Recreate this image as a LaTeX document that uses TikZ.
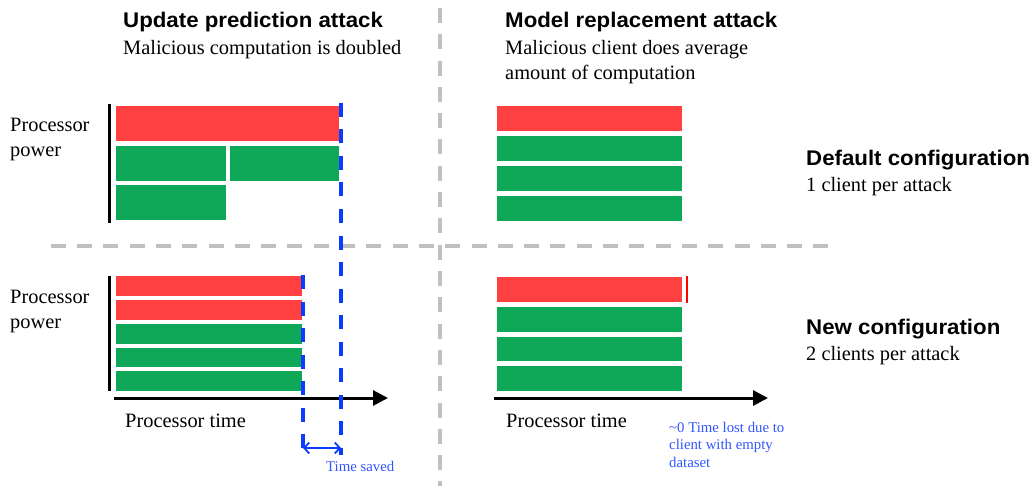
\documentclass[tikz,border=0pt]{standalone}
\usepackage{fontspec}
\setmainfont{Liberation Serif}
\newfontfamily\headfont[FakeStretch=1.05]{Liberation Sans}
\usetikzlibrary{arrows.meta}
\definecolor{barred}{RGB}{255,64,64}
\definecolor{bargreen}{RGB}{14,168,88}
\definecolor{dashblue}{RGB}{10,60,255}
\definecolor{noteblue}{RGB}{50,85,255}
\definecolor{divgray}{RGB}{192,192,192}
\begin{document}
\begin{tikzpicture}[x=1pt,y=-1pt,
  redbar/.style={fill=barred},
  greenbar/.style={fill=bargreen},
  divider/.style={draw=divgray,line width=3.3pt,dash pattern=on 15pt off 11.3pt},
  bluedash/.style={draw=dashblue,line width=3.5pt,dash pattern=on 14pt off 12.5pt},
  axisline/.style={draw=black,line width=3pt},
  timearrow/.style={draw=black,line width=3pt,-{Triangle[length=15pt,width=15pt]}},
  title/.style={anchor=base west,inner sep=0pt,font=\headfont\bfseries\fontsize{21.2}{24}\selectfont},
  body/.style={anchor=base west,inner sep=0pt,font=\fontsize{20.4}{25}\selectfont,align=left},
  note/.style={anchor=base west,inner sep=0pt,text=noteblue,font=\fontsize{14.8}{17.5}\selectfont,align=left}]
\useasboundingbox (0,0) rectangle (1032,486);
% dividers
\coordinate (vd1) at (440,8); \coordinate (vd2) at (440,486);
\coordinate (hd1) at (50.7,246); \coordinate (hd2) at (830,246);
\draw[divider] (vd1) -- (vd2);
\draw[divider] (hd1) -- (hd2);
% titles
\node[title] (t1) at (123,28) {Update prediction attack};
\node[body] (s1) at (123,55) {Malicious computation is doubled};
\node[title] (t2) at (505,28) {Model replacement attack};
\node[body] (s2a) at (505,55) {Malicious client does average};
\node[body] (s2b) at (505,80) {amount of computation};
\node[title] (t3) at (806,166) {Default configuration};
\node[body] (s3) at (806,192) {1 client per attack};
\node[title] (t4) at (806,334) {New configuration};
\node[body] (s4) at (806,360) {2 clients per attack};
% processor power labels
\node[body] (pp1a) at (10,132) {Processor};
\node[body] (pp1b) at (10,157) {power};
\node[body] (pp2a) at (10,303) {Processor};
\node[body] (pp2b) at (10,328) {power};
% top-left bars
\coordinate (a1) at (109,104); \coordinate (a2) at (109,223);
\draw[axisline] (a1) -- (a2);
\fill[redbar] (116,106) rectangle (339,141);
\fill[greenbar] (116,146) rectangle (226,181);
\fill[greenbar] (230,146) rectangle (339,181);
\fill[greenbar] (116,185) rectangle (226,220);
% top-right bars
\fill[redbar] (497,106) rectangle (682,131);
\fill[greenbar] (497,136) rectangle (682,161);
\fill[greenbar] (497,166) rectangle (682,191);
\fill[greenbar] (497,196) rectangle (682,221);
% bottom-left bars
\coordinate (b1) at (109,276); \coordinate (b2) at (109,391);
\draw[axisline] (b1) -- (b2);
\fill[redbar] (116,276) rectangle (302,296);
\fill[redbar] (116,300) rectangle (302,320);
\fill[greenbar] (116,324) rectangle (302,344);
\fill[greenbar] (116,348) rectangle (302,367);
\fill[greenbar] (116,371) rectangle (302,391);
% bottom-right bars
\fill[redbar] (497,277) rectangle (682,302);
\fill[greenbar] (497,307) rectangle (682,332);
\fill[greenbar] (497,337) rectangle (682,361);
\fill[greenbar] (497,366) rectangle (682,391);
\coordinate (rt1) at (687,276); \coordinate (rt2) at (687,303);
\draw[red,line width=2pt] (rt1) -- (rt2);
% time axes
\coordinate (x1) at (114,398); \coordinate (x2) at (388,398);
\draw[timearrow] (x1) -- (x2);
\coordinate (y1) at (494,398); \coordinate (y2) at (768,398);
\draw[timearrow] (y1) -- (y2);
\node[body] (pt1) at (125,427) {Processor time};
\node[body] (pt2) at (506,427) {Processor time};
% blue dashed lines
\coordinate (d1a) at (341,103); \coordinate (d1b) at (341,455);
\coordinate (d2a) at (303,275); \coordinate (d2b) at (303,455);
\draw[bluedash] (d1a) -- (d1b);
\draw[bluedash] (d2a) -- (d2b);
\coordinate (ts1) at (303,448); \coordinate (ts2) at (341,448);
\draw[draw=dashblue,line width=1.8pt,{Straight Barb[length=5pt,width=11pt]}-{Straight Barb[length=5pt,width=11pt]}] (ts1) -- (ts2);
\node[note] (tsl) at (326,471) {Time saved};
\node[note] (lost) at (669,467) {\textasciitilde 0 Time lost due to\\client with empty\\dataset};
\end{tikzpicture}
\end{document}
